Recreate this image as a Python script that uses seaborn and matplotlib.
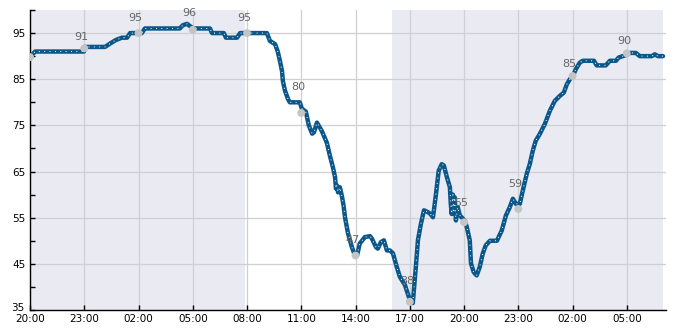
import numpy as np
import pandas as pd
import matplotlib
matplotlib.use("Agg")
import matplotlib.pyplot as plt
import matplotlib.dates as mdates
import matplotlib.transforms as mtransforms
import seaborn as sns

# ---- data ----
start = pd.Timestamp("2024-01-01 20:00")
minutes = [0, 10, 17, 179, 182, 249, 265, 285, 305, 322, 332, 371, 381, 497, 507, 521, 531, 541,
           597, 604, 643, 650, 687, 697, 786, 796, 813, 822, 829, 836, 839, 846, 856, 862, 895,
           902, 915, 925, 936, 942, 952, 962, 968, 985, 995, 1005, 1012, 1015, 1018, 1022, 1028,
           1035, 1041, 1045, 1055, 1068, 1078, 1085, 1094, 1111, 1128, 1134, 1148, 1154, 1164,
           1174, 1184, 1194, 1204, 1217, 1227, 1244, 1257, 1264, 1270, 1280, 1287, 1297, 1307,
           1320, 1327, 1337, 1347, 1356, 1366, 1373, 1383, 1393, 1396, 1399, 1403, 1406, 1409,
           1413, 1419, 1426, 1436, 1443, 1449, 1459, 1463, 1472, 1482, 1492, 1502, 1512, 1526,
           1549, 1565, 1579, 1592, 1602, 1612, 1618, 1625, 1635, 1648, 1658, 1668, 1678, 1691,
           1708, 1725, 1741, 1758, 1771, 1781, 1791, 1801, 1811, 1824, 1834, 1871, 1880, 1910,
           1924, 1944, 1953, 1980, 1990, 2010, 2023, 2063, 2073, 2083, 2100]
values = [90, 90.5, 91, 91, 92, 92, 92.7, 93.5, 94, 94, 95, 95, 96, 96, 96.7, 97, 96.5, 96,
          96, 95, 95, 94, 94, 95, 95, 93.3, 92.6, 91, 89, 86.8, 84.6, 82.5, 80.7, 80, 80,
          78.6, 78, 75, 73.2, 73.5, 75.6, 74.5, 73.8, 71.2, 68.4, 65.9, 63.8, 61.3, 62, 60.5, 61.6,
          59.6, 57.3, 55.1, 51.6, 48.6, 46.8, 46.8, 49.4, 50.8, 51, 50.5, 48.6, 48.3, 49.7,
          50.1, 47.9, 47.9, 47.3, 44.3, 42.2, 40.4, 37.8, 37, 36.5, 44.3, 50.1, 53.7, 56.6,
          56.2, 55.9, 55.1, 60.2, 65.2, 66.6, 66.3, 63.8, 61.6, 58, 55.8, 60, 56, 59.4,
          54.4, 57.3, 55.5, 54.8, 54.3, 53, 50.1, 45.1, 43.2, 42.5, 44.3, 47.2, 49, 50,
          50, 52.2, 55.5, 57.3, 59.1, 58, 58, 58, 60.9, 64.5, 66.6, 69.5, 71.7, 73.1,
          75.3, 78.2, 80.3, 81.4, 82.1, 83.9, 85, 85.7, 87.2, 88.6, 89, 89, 88, 88,
          89, 89, 89.7, 90.3, 90.7, 90.7, 90, 90, 90.4, 90, 90]

marker_minutes = [0, 180, 360, 540, 720, 900, 1080, 1260, 1440, 1620, 1800, 1980]
marker_values = [89.8, 91.7, 95, 95.7, 95, 77.7, 46.8, 36.8, 54.0, 56.9, 85.7, 90.6]
marker_labels = ["", "91", "95", "96", "95", "80", "47", "38", "55", "59", "85", "90"]

night_bands = [(0, 712), (1200, 2100)]  # minutes from start

df = pd.DataFrame({"time": start + pd.to_timedelta(minutes, unit="m"), "value": values})
mk = pd.DataFrame({"time": start + pd.to_timedelta(marker_minutes, unit="m"),
                   "value": marker_values, "label": marker_labels})

sns.set_theme(style="white")
plt.rcParams["font.family"] = ["DejaVu Sans"]

fig = plt.figure(figsize=(6.85, 3.3), dpi=100)
ax = fig.add_axes([30 / 685, 20 / 330, 636 / 685, 300 / 330])

for a, b in night_bands:
    ax.axvspan(start + pd.Timedelta(minutes=a), start + pd.Timedelta(minutes=b),
               color="#eaeaf2", zorder=0, lw=0)

ax.set_axisbelow(True)

sns.lineplot(data=df, x="time", y="value", ax=ax, color="#0b578a", lw=3.2, zorder=3)
ax.plot(df["time"], df["value"], color="white", lw=0.7, ls=(0, (1, 4.5)), zorder=4)
sns.scatterplot(data=mk, x="time", y="value", ax=ax, color="#c4c4c4", s=32,
                edgecolor="none", zorder=5)
for t, v, lab in zip(mk["time"], mk["value"], mk["label"]):
    if lab:
        ax.annotate(lab, (t, float(lab)), xytext=(-3, 15), textcoords="offset pixels",
                    ha="center", va="center", fontsize=8, color="#666666", zorder=6)

ax.set_xlim(start, start + pd.Timedelta(minutes=2110))
ax.set_ylim(35, 100)
ax.set_yticks(np.arange(35, 100, 10))
ax.set_yticks(np.arange(40, 101, 10), minor=True)
ax.xaxis.set_major_locator(mdates.HourLocator(byhour=[2, 5, 8, 11, 14, 17, 20, 23]))
ax.xaxis.set_major_formatter(mdates.DateFormatter("%H:%M"))
ax.set_xlabel("")
ax.set_ylabel("")
ax.grid(True, which="major", color="#cfcfd4", lw=0.9)

for s in ["top", "right"]:
    ax.spines[s].set_visible(False)
for s in ["left", "bottom"]:
    ax.spines[s].set_color("black")
    ax.spines[s].set_linewidth(1)

ax.tick_params(axis="both", which="major", direction="in", length=3.5, width=1,
               colors="black", labelsize=7.5, pad=3, left=True, bottom=True)
ax.tick_params(axis="y", which="minor", direction="in", length=3.5, width=1,
               colors="black", left=True)

# nudge the lowest y label up slightly so it sits just above the first x label
fig.canvas.draw()
lowest = ax.get_yticklabels()[0]
lowest.set_transform(lowest.get_transform() +
                     mtransforms.ScaledTranslation(-1 / 100, 3 / 100, fig.dpi_scale_trans))

fig.savefig("out.png", dpi=100)
